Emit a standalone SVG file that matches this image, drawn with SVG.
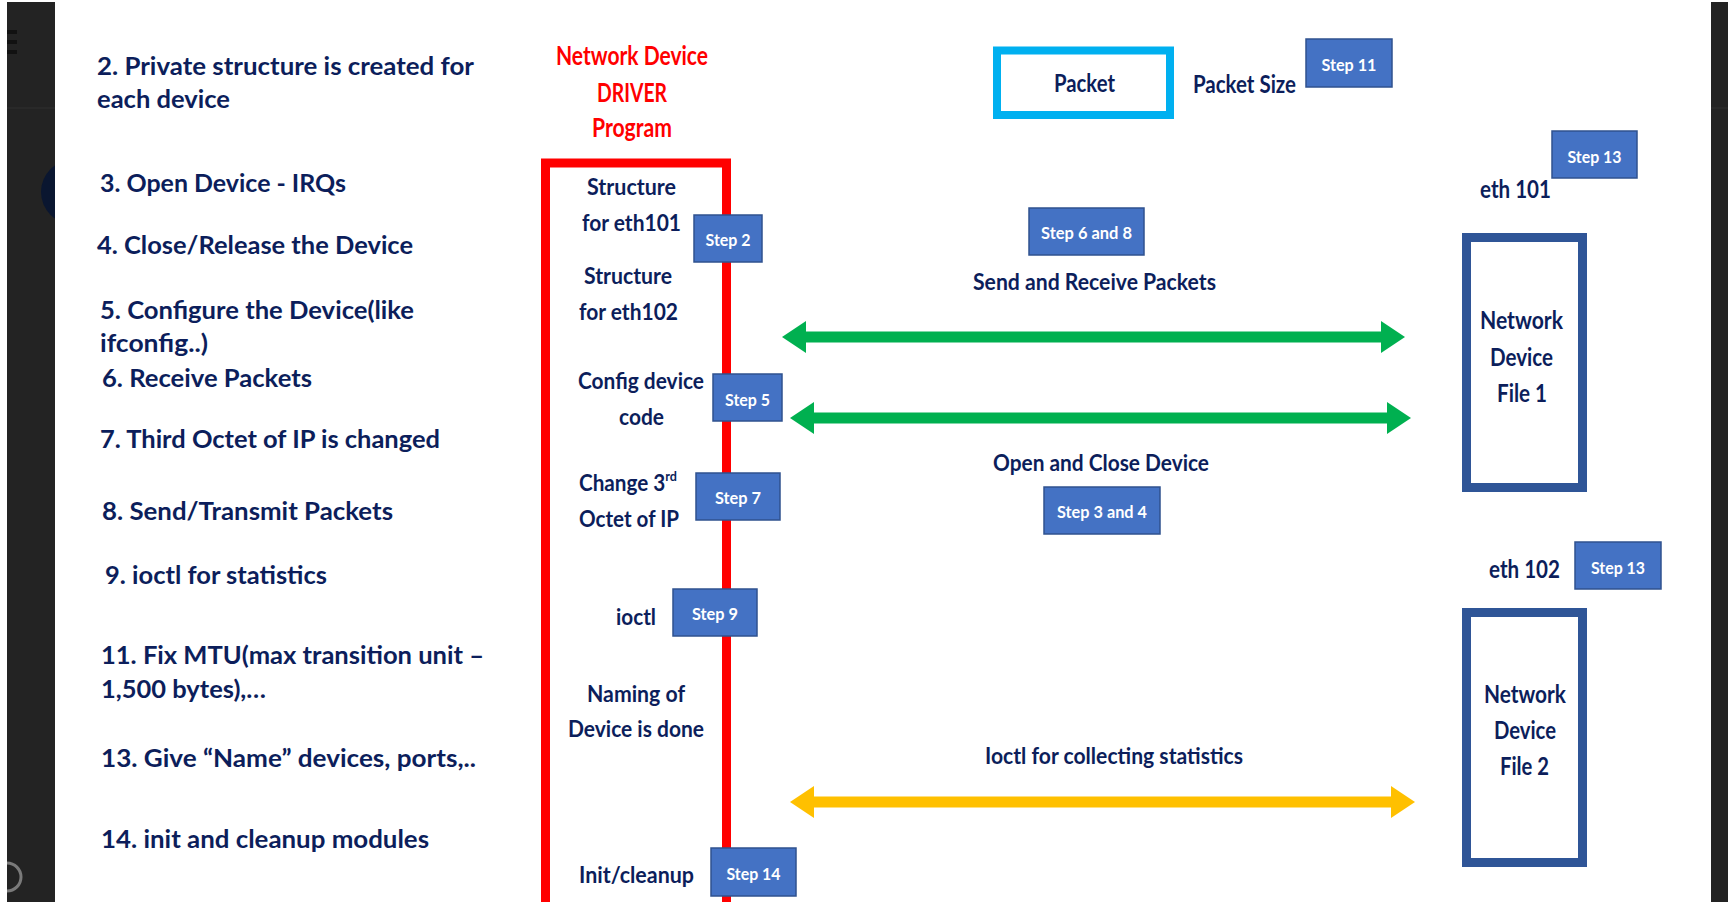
<svg xmlns="http://www.w3.org/2000/svg" width="1728" height="902" viewBox="0 0 1728 902">
<style>
text{font-family:Lato,"Liberation Sans",sans-serif;font-weight:700}
.lst{font-size:25px;fill:#0C1E5B}
.t{font-size:23px;fill:#0C1E5B}
.tc{font-size:23px;fill:#0C1E5B;text-anchor:middle}
.big{font-size:25px;fill:#0C1E5B}
.bigc{font-size:25px;fill:#0C1E5B;text-anchor:middle}
.red{font-size:26px;fill:#FF0000;text-anchor:middle}
.step rect{fill:#4472C4;stroke:#2F528F;stroke-width:1.5}
.step text{font-size:17px;fill:#FFFFFF;text-anchor:middle}
.ndf{fill:none;stroke:#2F5597;stroke-width:9}
.strip{fill:#232323}
</style>
<defs>
<marker id="ag" markerUnits="userSpaceOnUse" markerWidth="26" markerHeight="34" refX="1" refY="16" orient="auto-start-reverse" viewBox="0 0 26 34">
<path d="M0,0 L24,16 L0,32 z" fill="#00B050"/>
</marker>
<marker id="ay" markerUnits="userSpaceOnUse" markerWidth="26" markerHeight="34" refX="1" refY="16" orient="auto-start-reverse" viewBox="0 0 26 34">
<path d="M0,0 L24,16 L0,32 z" fill="#FFC000"/>
</marker>
<clipPath id="lc"><rect x="7" y="2" width="48" height="900"/></clipPath>
</defs>
<rect x="0" y="0" width="1728" height="902" fill="#FFFFFF"/>
<g id="frame">
<rect class="strip" x="7" y="2" width="48" height="900"/>
<rect class="strip" x="1711" y="2" width="17" height="900"/>
<line x1="7" y1="108" x2="55" y2="108" stroke="#2C2C2C" stroke-width="1.5"/>
<line x1="1711" y1="108" x2="1728" y2="108" stroke="#2C2C2C" stroke-width="1.5"/>
<rect x="7" y="30" width="10" height="4" fill="#111111"/>
<rect x="7" y="40" width="10" height="4" fill="#111111"/>
<rect x="7" y="50" width="10" height="4" fill="#111111"/>
<circle cx="73" cy="192" r="32" fill="#0A1630" clip-path="url(#lc)"/>
<path d="M7,863 A14,14 0 0 1 7,891" fill="none" stroke="#7A7A7A" stroke-width="3"/>
</g>
<g id="list">
<text class="lst" x="97" y="75" textLength="377" lengthAdjust="spacingAndGlyphs">2. Private structure is created for</text>
<text class="lst" x="97" y="108" textLength="133" lengthAdjust="spacingAndGlyphs">each device</text>
<text class="lst" x="100" y="192" textLength="246" lengthAdjust="spacingAndGlyphs">3. Open Device - IRQs</text>
<text class="lst" x="97" y="254" textLength="316" lengthAdjust="spacingAndGlyphs">4. Close/Release the Device</text>
<text class="lst" x="100" y="319" textLength="314" lengthAdjust="spacingAndGlyphs">5. Configure the Device(like</text>
<text class="lst" x="100" y="352" textLength="108" lengthAdjust="spacingAndGlyphs">ifconfig..)</text>
<text class="lst" x="102" y="387" textLength="210" lengthAdjust="spacingAndGlyphs">6. Receive Packets</text>
<text class="lst" x="100" y="448" textLength="340" lengthAdjust="spacingAndGlyphs">7. Third Octet of IP is changed</text>
<text class="lst" x="102" y="520" textLength="291" lengthAdjust="spacingAndGlyphs">8. Send/Transmit Packets</text>
<text class="lst" x="105" y="584" textLength="222" lengthAdjust="spacingAndGlyphs">9. ioctl for statistics</text>
<text class="lst" x="101" y="664" textLength="383" lengthAdjust="spacingAndGlyphs">11. Fix MTU(max transition unit –</text>
<text class="lst" x="101" y="698" textLength="165" lengthAdjust="spacingAndGlyphs">1,500 bytes),…</text>
<text class="lst" x="101" y="767" textLength="375" lengthAdjust="spacingAndGlyphs">13. Give “Name” devices, ports,..</text>
<text class="lst" x="101" y="848" textLength="328" lengthAdjust="spacingAndGlyphs">14. init and cleanup modules</text>
</g>
<g id="driver">
<text class="red" x="632" y="65" textLength="152" lengthAdjust="spacingAndGlyphs">Network Device</text>
<text class="red" x="632" y="102" textLength="70" lengthAdjust="spacingAndGlyphs">DRIVER</text>
<text class="red" x="632" y="137" textLength="80" lengthAdjust="spacingAndGlyphs">Program</text>
<rect x="545.5" y="163" width="181" height="800" fill="none" stroke="#FF0000" stroke-width="9"/>
<text class="tc" x="631.5" y="195" textLength="89" lengthAdjust="spacingAndGlyphs">Structure</text>
<text class="tc" x="631.5" y="231" textLength="99" lengthAdjust="spacingAndGlyphs">for eth101</text>
<text class="tc" x="628" y="284" textLength="88" lengthAdjust="spacingAndGlyphs">Structure</text>
<text class="tc" x="628.5" y="320" textLength="99" lengthAdjust="spacingAndGlyphs">for eth102</text>
<text class="tc" x="641" y="389" textLength="126" lengthAdjust="spacingAndGlyphs">Config device</text>
<text class="tc" x="641.5" y="425" textLength="45" lengthAdjust="spacingAndGlyphs">code</text>
<text class="t" x="579" y="491" textLength="98" lengthAdjust="spacingAndGlyphs">Change 3<tspan dy="-10" style="font-size:14px">rd</tspan></text>
<text class="t" x="579" y="527" textLength="100" lengthAdjust="spacingAndGlyphs">Octet of IP</text>
<text class="t" x="616" y="625" textLength="40" lengthAdjust="spacingAndGlyphs">ioctl</text>
<text class="tc" x="636" y="702" textLength="98" lengthAdjust="spacingAndGlyphs">Naming of</text>
<text class="tc" x="636" y="737" textLength="136" lengthAdjust="spacingAndGlyphs">Device is done</text>
<text class="t" x="579" y="883" textLength="115" lengthAdjust="spacingAndGlyphs">Init/cleanup</text>
</g>
<g id="packet">
<rect x="997" y="50.5" width="173" height="64.5" fill="none" stroke="#00B0F0" stroke-width="8"/>
<text class="bigc" x="1084.5" y="92" textLength="61" lengthAdjust="spacingAndGlyphs">Packet</text>
</g>
<g id="packet-size">
<text class="big" x="1193" y="93" textLength="103" lengthAdjust="spacingAndGlyphs">Packet Size</text>
</g>
<g id="ndf1">
<text class="big" x="1480" y="198" style="font-size:24px" textLength="71" lengthAdjust="spacingAndGlyphs">eth 101</text>
<rect class="ndf" x="1466.5" y="237.5" width="116" height="250"/>
<text class="bigc" x="1521.5" y="329" textLength="83" lengthAdjust="spacingAndGlyphs">Network</text>
<text class="bigc" x="1521.5" y="366" textLength="63" lengthAdjust="spacingAndGlyphs">Device</text>
<text class="bigc" x="1522" y="402" textLength="50" lengthAdjust="spacingAndGlyphs">File 1</text>
</g>
<g id="ndf2">
<text class="big" x="1489" y="578" style="font-size:24px" textLength="71" lengthAdjust="spacingAndGlyphs">eth 102</text>
<rect class="ndf" x="1466.5" y="612.5" width="116" height="250"/>
<text class="bigc" x="1525" y="703" textLength="82" lengthAdjust="spacingAndGlyphs">Network</text>
<text class="bigc" x="1525" y="739" textLength="62" lengthAdjust="spacingAndGlyphs">Device</text>
<text class="bigc" x="1524.5" y="775" textLength="49" lengthAdjust="spacingAndGlyphs">File 2</text>
</g>
<g id="connectors">
<line x1="805" y1="337" x2="1382" y2="337" stroke="#00B050" stroke-width="11" marker-start="url(#ag)" marker-end="url(#ag)"/>
<line x1="813" y1="418" x2="1388" y2="418" stroke="#00B050" stroke-width="11" marker-start="url(#ag)" marker-end="url(#ag)"/>
<line x1="813" y1="802" x2="1392" y2="802" stroke="#FFC000" stroke-width="11" marker-start="url(#ay)" marker-end="url(#ay)"/>
<text class="tc" x="1094.5" y="290" textLength="243" lengthAdjust="spacingAndGlyphs">Send and Receive Packets</text>
<text class="tc" x="1101" y="471" textLength="216" lengthAdjust="spacingAndGlyphs">Open and Close Device</text>
<text class="tc" x="1114" y="764" textLength="258" lengthAdjust="spacingAndGlyphs">Ioctl for collecting statistics</text>
</g>
<g id="step11" class="step"><rect x="1306" y="39" width="86" height="48"/><text x="1349" y="70.5" textLength="55" lengthAdjust="spacingAndGlyphs">Step 11</text></g>
<g id="step13a" class="step"><rect x="1552" y="131" width="85" height="47"/><text x="1594.5" y="162.5" textLength="54" lengthAdjust="spacingAndGlyphs">Step 13</text></g>
<g id="step2" class="step"><rect x="694" y="215" width="68" height="47"/><text x="728" y="246" textLength="45" lengthAdjust="spacingAndGlyphs">Step 2</text></g>
<g id="step6and8" class="step"><rect x="1029" y="208" width="115" height="47"/><text x="1086.5" y="239" textLength="91" lengthAdjust="spacingAndGlyphs">Step 6 and 8</text></g>
<g id="step5" class="step"><rect x="713" y="374" width="69" height="47"/><text x="747.5" y="405.5" textLength="45" lengthAdjust="spacingAndGlyphs">Step 5</text></g>
<g id="step7" class="step"><rect x="696" y="473" width="84" height="47"/><text x="738" y="503.5" textLength="46" lengthAdjust="spacingAndGlyphs">Step 7</text></g>
<g id="step3and4" class="step"><rect x="1044" y="487" width="116" height="47"/><text x="1102" y="518" textLength="90" lengthAdjust="spacingAndGlyphs">Step 3 and 4</text></g>
<g id="step13b" class="step"><rect x="1575" y="542" width="86" height="47"/><text x="1618" y="573.5" textLength="54" lengthAdjust="spacingAndGlyphs">Step 13</text></g>
<g id="step9" class="step"><rect x="673" y="589" width="84" height="47"/><text x="715" y="620" textLength="46" lengthAdjust="spacingAndGlyphs">Step 9</text></g>
<g id="step14" class="step"><rect x="711" y="848" width="85" height="48"/><text x="753.5" y="879.5" textLength="54" lengthAdjust="spacingAndGlyphs">Step 14</text></g>
</svg>
